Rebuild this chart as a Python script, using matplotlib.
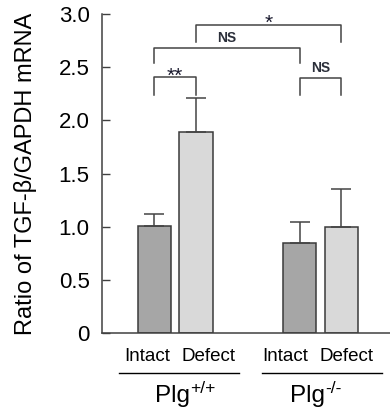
import matplotlib
matplotlib.use("Agg")
import matplotlib.pyplot as plt
import matplotlib.transforms as mtransforms
import numpy as np

plt.rcParams['font.family'] = ['Liberation Sans', 'DejaVu Sans']

# ---- data ----
groups = ["Plg", "Plg"]
group_sups = ["+/+", "-/-"]
conditions = ["Intact", "Defect"]
means = [1.01, 1.89, 0.85, 1.00]          # Intact/Defect for Plg+/+, then Plg-/-
err_upper = [0.11, 0.32, 0.19, 0.35]
yticks = [0, 0.5, 1.0, 1.5, 2.0, 2.5, 3.0]
ytick_labels = ["0", "0.5", "1.0", "1.5", "2.0", "2.5", "3.0"]
ylabel = "Ratio of TGF-\u03b2/GAPDH mRNA"
# significance brackets: bars compared, bracket level, leg bottom, label
sig_bar_a = [0, 0, 1, 2]
sig_bar_b = [1, 2, 3, 3]
sig_level = [2.405, 2.683, 2.90, 2.395]
sig_leg_bottom = [2.24, 2.54, 2.74, 2.24]
sig_labels = ["**", "NS", "*", "NS"]

bar_colors = ["#a6a6a6", "#d9d9d9"]
edge_color = "#3a3a3a"
line_color = "#444444"

# ---- layout ----
PX = 41.5                      # pixels per x data unit
group_gap = 3.5
cond_shift_px = [2.75, -4.5]
line_shift_px = [3.75, 1.75]
plg_right_px = [14.75, 4.75]

x = np.array([g * group_gap + c for g in range(len(groups)) for c in range(len(conditions))], dtype=float)
colors = [bar_colors[c] for g in range(len(groups)) for c in range(len(conditions))]

fig = plt.figure(figsize=(3.9, 4.09), dpi=100)
ax = fig.add_axes([102 / 390, 76 / 409, 288 / 390, 319 / 409])

ax.bar(x, means, width=0.8, color=colors, edgecolor=edge_color, linewidth=1.1, zorder=2)
ax.errorbar(x, means, yerr=[np.zeros(len(means)), err_upper], fmt='none',
            ecolor=line_color, elinewidth=1.1, capsize=7.2, capthick=1.1, zorder=3)

ax.set_xlim(-1.265, 5.675)
ax.set_ylim(0, 3.0)
ax.set_yticks(yticks)
ax.set_yticklabels(ytick_labels, fontsize=16)
ax.set_xticks([])
ax.tick_params(axis='y', direction='in', length=5.5, width=1.0, color='#404040', pad=9)
for s in ['top', 'right']:
    ax.spines[s].set_visible(False)
for s in ['left', 'bottom']:
    ax.spines[s].set_color('#404040')
    ax.spines[s].set_linewidth(1.1)

ax.set_ylabel(ylabel, fontsize=17, va='center')
ax.yaxis.set_label_coords(-0.267, 0.5)

# significance brackets
for a, b, lvl, leg, lab in zip(sig_bar_a, sig_bar_b, sig_level, sig_leg_bottom, sig_labels):
    xa, xb = x[a], x[b]
    ax.plot([xa, xa, xb, xb], [leg, lvl, lvl, leg], color=line_color, lw=1.1,
            clip_on=False, zorder=4)
    if lab.startswith("*"):
        ax.annotate(lab, xy=((xa + xb) / 2, lvl), xytext=(0, -3.0), textcoords='offset points',
                    ha='center', va='baseline', fontsize=15, color='#1a1a2e',
                    annotation_clip=False)
    else:
        ax.annotate(lab, xy=((xa + xb) / 2, lvl), xytext=(0, 2.2), textcoords='offset points',
                    ha='center', va='bottom', fontsize=10, fontweight='bold',
                    color='#2b2f3a', annotation_clip=False)

# x category labels
trans = mtransforms.blended_transform_factory(ax.transData, ax.transAxes)
for g in range(len(groups)):
    gc = g * group_gap + 0.5
    cs = cond_shift_px[g] / PX
    for c, cond in enumerate(conditions):
        ax.text(gc + cs + (c - 0.5) * 61.0 / PX, -0.074, cond, transform=trans, ha='center',
                va='center', fontsize=13.5, clip_on=False)
    ls = line_shift_px[g] / PX
    ax.plot([gc + ls - 60 / PX, gc + ls + 60 / PX], [-0.1245, -0.1245], transform=trans,
            color='black', lw=1.0, clip_on=False)
    t = ax.text(gc + plg_right_px[g] / PX, -0.2155, groups[g], transform=trans,
                ha='right', va='baseline', fontsize=17.5, clip_on=False)
    ax.annotate(group_sups[g], xy=(1, 0.5), xycoords=t, ha='left', va='bottom',
                fontsize=12.5, annotation_clip=False)

fig.savefig("out.png", dpi=100)
